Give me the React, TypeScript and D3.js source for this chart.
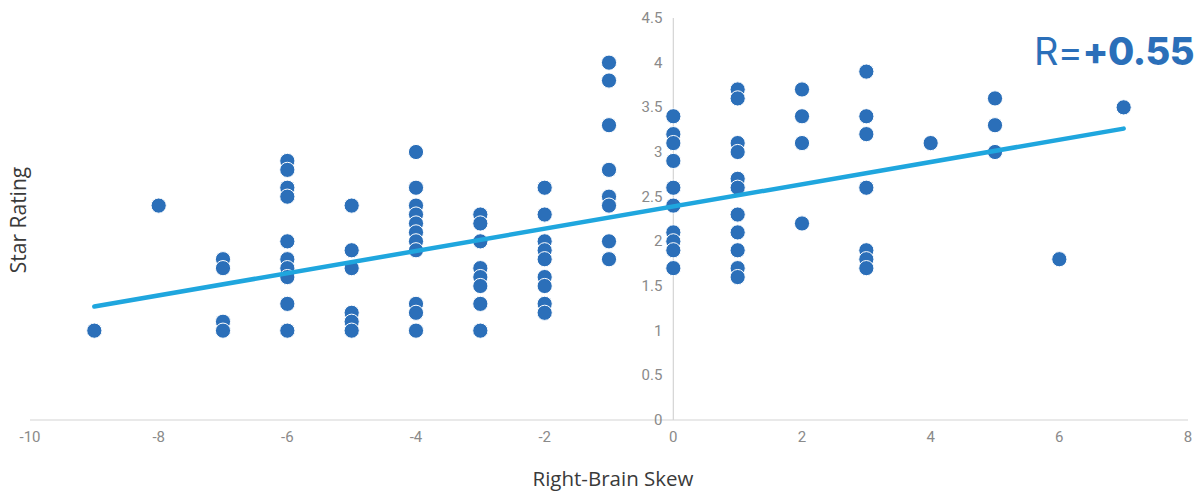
import React from "react";
import * as d3 from "d3";

const xTicks = [-10, -8, -6, -4, -2, 0, 2, 4, 6, 8];
const yTicks = [0, 0.5, 1, 1.5, 2, 2.5, 3, 3.5, 4, 4.5];
const skewGroups = [-9, -8, -7, -6, -5, -4, -3, -2, -1, 0, 1, 2, 3, 4, 5, 6, 7];
const ratingsByGroup: number[][] = [
  [1.0],
  [2.4],
  [1.8, 1.7, 1.1, 1.0],
  [2.9, 2.8, 2.6, 2.5, 2.0, 1.8, 1.7, 1.6, 1.3, 1.0],
  [2.4, 1.9, 1.7, 1.2, 1.1, 1.0],
  [3.0, 2.6, 2.4, 2.3, 2.2, 2.1, 2.0, 1.9, 1.3, 1.2, 1.0],
  [2.3, 2.2, 2.0, 1.7, 1.6, 1.5, 1.3, 1.0],
  [2.6, 2.3, 2.0, 1.9, 1.8, 1.6, 1.5, 1.3, 1.2],
  [4.0, 3.8, 3.3, 2.8, 2.5, 2.4, 2.0, 1.8],
  [3.4, 3.2, 3.1, 2.9, 2.6, 2.4, 2.1, 2.0, 1.9, 1.7],
  [3.7, 3.6, 3.1, 3.0, 2.7, 2.6, 2.3, 2.1, 1.9, 1.7, 1.6],
  [3.7, 3.4, 3.1, 2.2],
  [3.9, 3.4, 3.2, 2.6, 1.9, 1.8, 1.7],
  [3.1],
  [3.6, 3.3, 3.0],
  [1.8],
  [3.5],
];
// trendline
const trendSlope = 0.1245;
const trendIntercept = 2.39;
const rLabel = "R=";
const rValue = "+0.55";
const xTitle = "Right-Brain Skew";
const yTitle = "Star Rating";

export default function App() {
  const W = 1198, H = 492;
  const x = d3.scaleLinear().domain([-10, 8]).range([30, 1188]);
  const y = d3.scaleLinear().domain([0, 4.5]).range([420, 18]);
  const pts: [number, number][] = [];
  skewGroups.forEach((g, i) => ratingsByGroup[i].forEach((v) => pts.push([g, v])));
  const x0 = d3.min(pts, (p) => p[0])!;
  const x1 = d3.max(pts, (p) => p[0])!;
  const line = d3.line<[number, number]>().x((d) => x(d[0])).y((d) => y(d[1]));
  const trend = line([
    [x0, trendIntercept + trendSlope * x0],
    [x1, trendIntercept + trendSlope * x1],
  ]);
  const font = "Roboto, 'Noto Sans', sans-serif";
  const titleFont = "'Open Sans', 'Noto Sans', sans-serif";
  return (
    <svg width={W} height={H} style={{ position: "absolute", left: 0, top: 0 }} fontFamily={font}>
      <line x1={x(-10)} x2={x(8)} y1={y(0)} y2={y(0)} stroke="#d4d4d4" strokeWidth={1.2} />
      <line x1={x(0)} x2={x(0)} y1={y(0)} y2={y(4.5)} stroke="#d4d4d4" strokeWidth={1.2} />
      {yTicks.map((t) => (
        <text key={"y" + t} x={x(0) - 11} y={y(t)} textAnchor="end" dominantBaseline="central" fontSize={15} fill="#8a8a8a">
          {String(t)}
        </text>
      ))}
      {xTicks.map((t) => (
        <text key={"x" + t} x={x(t)} y={437} textAnchor="middle" dominantBaseline="central" fontSize={15} fill="#8a8a8a">
          {String(t)}
        </text>
      ))}
      {pts.map((p, i) => (
        <circle key={i} cx={x(p[0])} cy={y(p[1])} r={7.6} fill="#2b6fb9" stroke="#ffffff" strokeWidth={1} />
      ))}
      <path d={trend ?? ""} fill="none" stroke="#1fa6de" strokeWidth={4.5} strokeLinecap="round" />
      <text x={613} y={478} textAnchor="middle" dominantBaseline="central" fontSize={20.5} fill="#3a3a3a" fontFamily={titleFont}>
        {xTitle}
      </text>
      <text transform={`translate(18,220) rotate(-90)`} textAnchor="middle" dominantBaseline="central" fontSize={21} fill="#3a3a3a" fontFamily={titleFont}>
        {yTitle}
      </text>
      <text x={1194} y={65} textAnchor="end" fontSize={38} fill="#2b6fb9" fontFamily="Inter, Roboto, sans-serif" letterSpacing={-0.5}>
        <tspan fontWeight={400}>{rLabel}</tspan>
        <tspan fontWeight={800}>{rValue}</tspan>
      </text>
    </svg>
  );
}
